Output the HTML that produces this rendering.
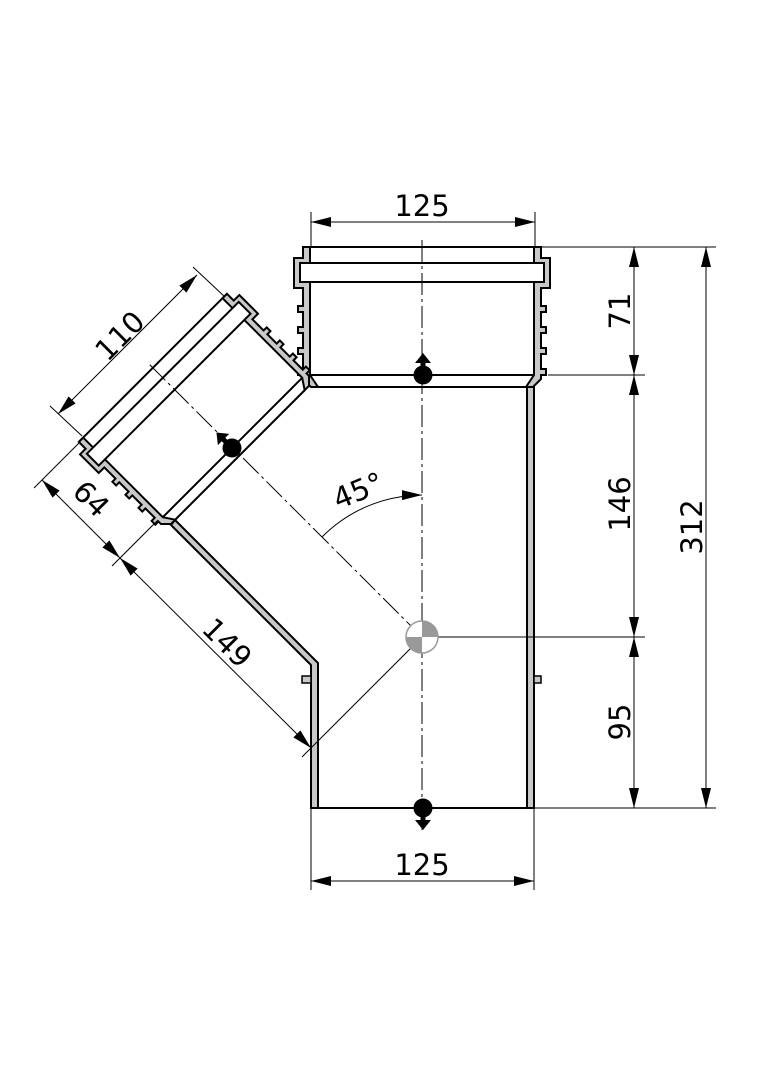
<!DOCTYPE html>
<html><head><meta charset="utf-8"><style>
html,body{margin:0;padding:0;background:#fff;}
svg{display:block;}
text{font-family:"DejaVu Sans","Liberation Sans",sans-serif;font-size:29px;fill:#000;}
</style></head><body>
<svg width="764" height="1080" viewBox="0 0 764 1080" xmlns="http://www.w3.org/2000/svg">
<defs>
<marker id="ar" viewBox="0 0 20 10" refX="20" refY="5" markerWidth="20" markerHeight="10" markerUnits="userSpaceOnUse" orient="auto-start-reverse">
<path d="M0,0 L20,5 L0,10 Z" fill="#000"/>
</marker>
<g id="half">
<polygon points="390,112 262,112 250,104 250,111 258,119 262,119 262,124 268,124 268,119 283,119 283,124 289,124 289,119 304,119 304,124 310,124 310,119 325,119 325,124 331,124 331,119 349,119 349,128 379,128 379,119 390,119" fill="#c8c8c8" stroke="#000" stroke-width="2" vector-effect="non-scaling-stroke" stroke-linejoin="miter"/>
</g>
<g id="sock">
<use href="#half"/>
<use href="#half" transform="scale(1,-1)"/>
<line x1="390" y1="-119" x2="390" y2="119" stroke="#000" stroke-width="2" vector-effect="non-scaling-stroke"/>
<line x1="262" y1="-112" x2="262" y2="112" stroke="#000" stroke-width="2" vector-effect="non-scaling-stroke"/>
<line x1="250" y1="-104" x2="250" y2="104" stroke="#000" stroke-width="2" vector-effect="non-scaling-stroke"/>
<rect x="355" y="-122" width="19" height="244" fill="#fff" stroke="#000" stroke-width="2" vector-effect="non-scaling-stroke"/>
</g>
</defs>

<g transform="translate(422 637) rotate(270)"><use href="#sock"/></g>
<g transform="translate(422 637) rotate(225) translate(268 0) scale(0.88) translate(-262 0)"><use href="#sock"/></g>

<rect x="527" y="387" width="7" height="421" fill="#c8c8c8" stroke="#000" stroke-width="2"/>
<rect x="534" y="676" width="7" height="7" fill="#c8c8c8" stroke="#000" stroke-width="1.5"/>
<polygon points="175,520 318,663 318,808 311,808 311,665 171,525" fill="#c8c8c8" stroke="#000" stroke-width="2"/>
<rect x="302" y="676" width="9" height="7" fill="#c8c8c8" stroke="#000" stroke-width="1.5"/>
<line x1="311" y1="808" x2="534" y2="808" stroke="#000" stroke-width="2"/>

<g stroke="#000" stroke-width="1" fill="none">
<line x1="422" y1="240" x2="422" y2="830" stroke-dasharray="22,4,3,4"/>
<line x1="422" y1="637" x2="148" y2="363" stroke-dasharray="22,4,3,4"/>
<line x1="422" y1="637" x2="645" y2="637"/>
<line x1="422" y1="637" x2="302" y2="757"/>
</g>
<g transform="translate(422 637)">
<circle r="16" fill="#fff" stroke="#999" stroke-width="1.5"/>
<path d="M0,0 L0,-16 A16,16 0 0 1 16,0 Z" fill="#999"/>
<path d="M0,0 L-16,0 A16,16 0 0 0 0,16 Z" fill="#999"/>
</g>

<g stroke="#000" stroke-width="1" fill="none">
<line x1="311" y1="212" x2="311" y2="247"/><line x1="535" y1="212" x2="535" y2="247"/>
<line x1="311" y1="222" x2="535" y2="222" marker-start="url(#ar)" marker-end="url(#ar)"/>
<line x1="311" y1="808" x2="311" y2="890"/><line x1="534" y1="808" x2="534" y2="890"/>
<line x1="311" y1="881" x2="534" y2="881" marker-start="url(#ar)" marker-end="url(#ar)"/>
<line x1="541" y1="247" x2="716" y2="247"/>
<line x1="548" y1="375" x2="645" y2="375"/>
<line x1="534" y1="808" x2="716" y2="808"/>
<line x1="634" y1="247" x2="634" y2="375" marker-start="url(#ar)" marker-end="url(#ar)"/>
<line x1="634" y1="375" x2="634" y2="637" marker-start="url(#ar)" marker-end="url(#ar)"/>
<line x1="634" y1="637" x2="634" y2="808" marker-start="url(#ar)" marker-end="url(#ar)"/>
<line x1="706" y1="247" x2="706" y2="808" marker-start="url(#ar)" marker-end="url(#ar)"/>
<line x1="193" y1="267" x2="225" y2="297"/>
<line x1="50" y1="406" x2="82" y2="436"/>
<line x1="197" y1="275" x2="58" y2="414" marker-start="url(#ar)" marker-end="url(#ar)"/>
<line x1="34" y1="488" x2="80" y2="442"/>
<line x1="112" y1="566" x2="158" y2="520"/>
<line x1="42" y1="480" x2="120" y2="558" marker-start="url(#ar)" marker-end="url(#ar)"/>
<line x1="120" y1="558" x2="311" y2="748" marker-start="url(#ar)" marker-end="url(#ar)"/>
<path d="M322,537 A142,142 0 0 1 422,495" marker-end="url(#ar)"/>
</g>

<text x="422" y="216" text-anchor="middle">125</text>
<text x="422" y="875" text-anchor="middle">125</text>
<text transform="translate(630 311) rotate(-90)" text-anchor="middle">71</text>
<text transform="translate(630 504) rotate(-90)" text-anchor="middle">146</text>
<text transform="translate(630 722) rotate(-90)" text-anchor="middle">95</text>
<text transform="translate(702 527) rotate(-90)" text-anchor="middle">312</text>
<text transform="translate(127 343) rotate(-45)" text-anchor="middle">110</text>
<text transform="translate(84 506) rotate(45)" text-anchor="middle">64</text>
<text transform="translate(220 650) rotate(45)" text-anchor="middle">149</text>
<text transform="translate(362 500) rotate(-22)" text-anchor="middle">45°</text>

<g transform="translate(423 375)"><circle r="9.5" fill="#000"/><rect x="-2.5" y="-17" width="5" height="10" fill="#000"/><path d="M-8,-12 L8,-12 L0,-22 Z" fill="#000"/></g>
<g transform="translate(423 808) rotate(180)"><circle r="9.5" fill="#000"/><rect x="-2.5" y="-17" width="5" height="10" fill="#000"/><path d="M-8,-12 L8,-12 L0,-22 Z" fill="#000"/></g>
<g transform="translate(232 448) rotate(-45)"><circle r="9.5" fill="#000"/><rect x="-2.5" y="-17" width="5" height="10" fill="#000"/><path d="M-8,-12 L8,-12 L0,-22 Z" fill="#000"/></g>
</svg>
</body></html>
